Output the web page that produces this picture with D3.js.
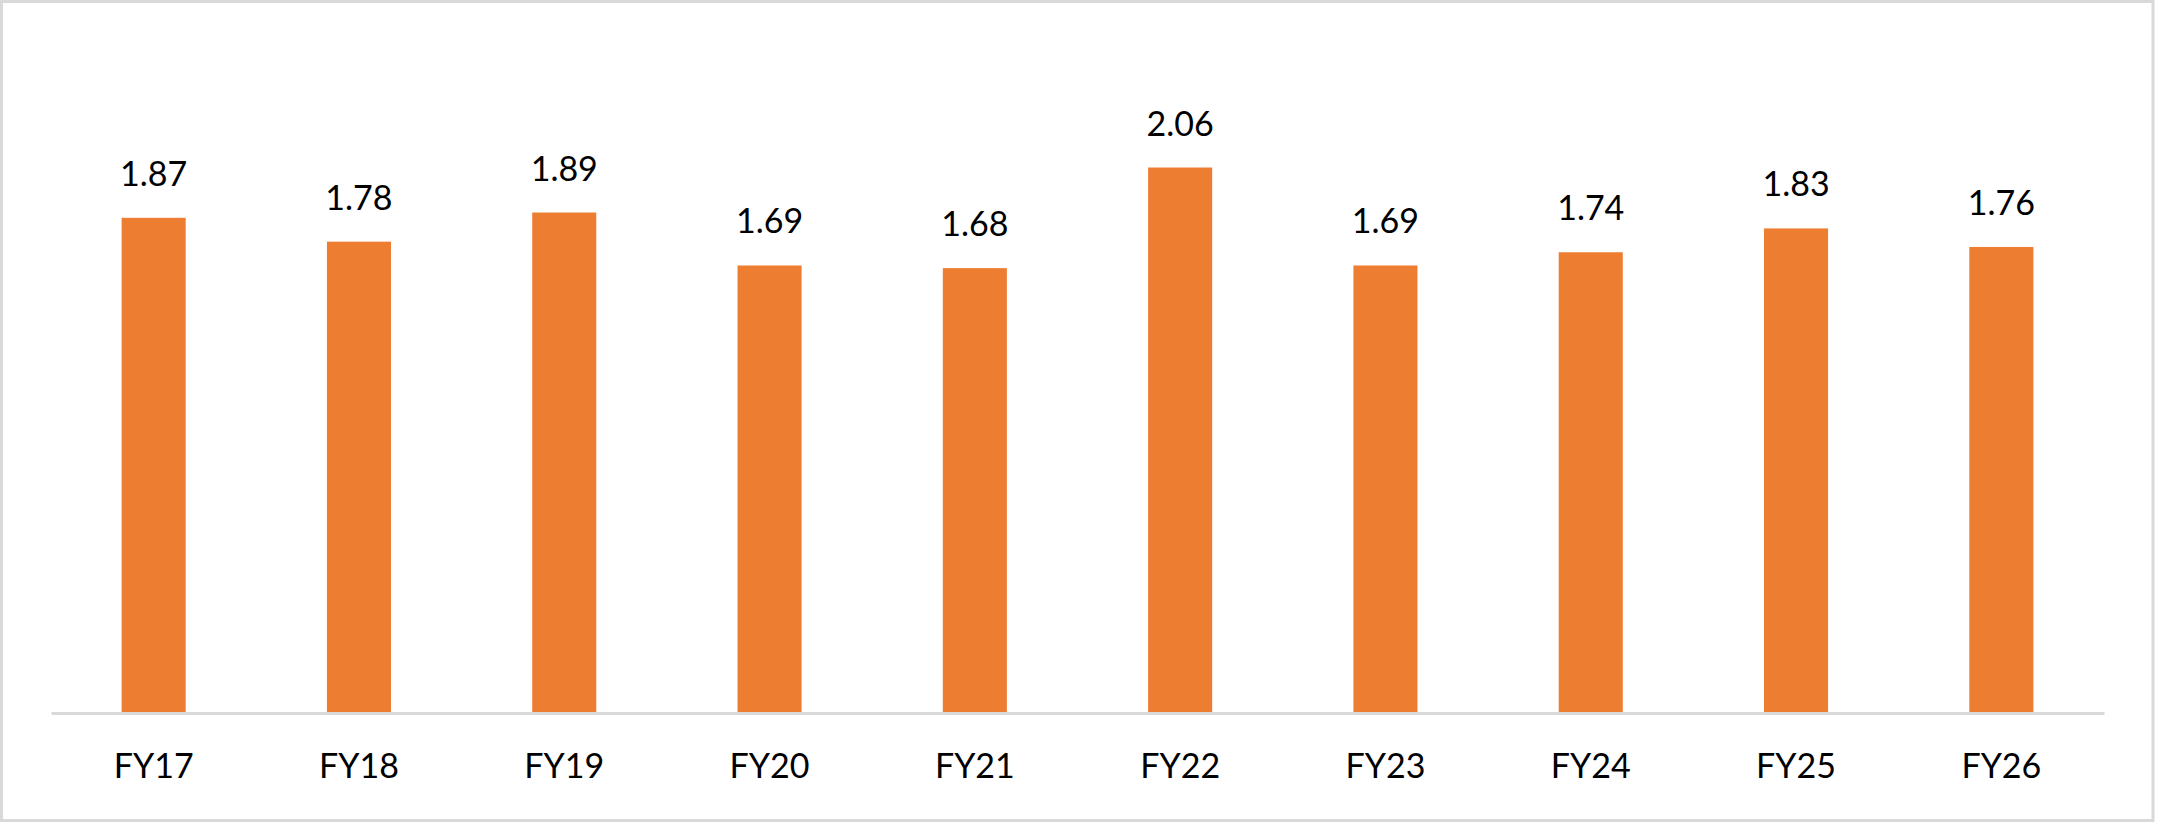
<!DOCTYPE html>
<html>
<head>
<meta charset="utf-8">
<script src="https://cdn.jsdelivr.net/npm/d3@7"></script>
<style>
  body { margin: 0; background: #fff; }
  svg { display: block; }
  text { font-family: Lato, "Open Sans", sans-serif; fill: #000; }
</style>
</head>
<body>
<script>
var years = ["FY17", "FY18", "FY19", "FY20", "FY21", "FY22", "FY23", "FY24", "FY25", "FY26"];
var values = [1.87, 1.78, 1.89, 1.69, 1.68, 2.06, 1.69, 1.74, 1.83, 1.76];

var W = 2157, H = 822;

var svg = d3.select("body").append("svg")
  .attr("width", W)
  .attr("height", H);

// chart frame
svg.append("rect")
  .attr("x", 1.5)
  .attr("y", 1.5)
  .attr("width", 2153 - 1.5)
  .attr("height", 819)
  .attr("fill", "#fff")
  .attr("stroke", "#d9d9d9")
  .attr("stroke-width", 3);

var x = d3.scaleBand()
  .domain(years)
  .range([51, 2104])
  .paddingInner(0.688)
  .paddingOuter(0.344);

var y = d3.scaleLinear()
  .domain([0, 2.5])
  .range([713, 51]);

// bars
svg.selectAll(".bar")
  .data(values)
  .enter().append("rect")
  .attr("class", "bar")
  .attr("x", function(d, i) { return x(years[i]); })
  .attr("y", function(d) { return y(d); })
  .attr("width", x.bandwidth())
  .attr("height", function(d) { return y(0) - y(d); })
  .attr("fill", "#ed7d31");

// value labels
svg.selectAll(".val")
  .data(values)
  .enter().append("text")
  .attr("class", "val")
  .attr("x", function(d, i) { return x(years[i]) + x.bandwidth() / 2; })
  .attr("y", function(d) { return y(d) - 32; })
  .attr("text-anchor", "middle")
  .attr("font-size", 34)
  .text(function(d) { return d3.format(".2f")(d); });

// category axis
var xAxis = svg.append("g")
  .attr("transform", "translate(0," + y(0) + ")")
  .call(d3.axisBottom(x).tickSize(0).tickPadding(0));

xAxis.select(".domain")
  .attr("stroke", "#d9d9d9")
  .attr("stroke-width", 3);

xAxis.selectAll(".tick text")
  .attr("dy", null)
  .attr("y", 65)
  .attr("font-size", 34)
  .attr("font-family", "Lato, 'Open Sans', sans-serif")
  .attr("fill", "#000");
</script>
</body>
</html>
